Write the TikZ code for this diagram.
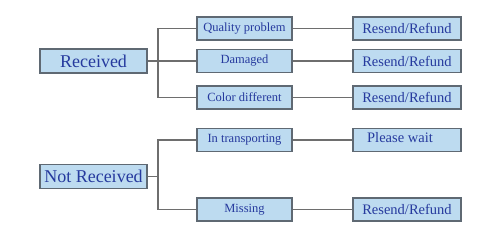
\documentclass[tikz,border=0pt]{standalone}
\usepackage{fontspec}
\setmainfont{Liberation Serif}
\usepackage{tikz}
\usetikzlibrary{positioning,calc}
\definecolor{boxfill}{RGB}{189,219,240}
\definecolor{boxline}{RGB}{95,105,115}
\definecolor{boxtext}{RGB}{38,58,158}
\definecolor{wire}{RGB}{110,110,110}

\begin{document}
\begin{tikzpicture}[
    x=1pt, y=-1pt,
    box/.style={rectangle, draw=boxline, line width=1.2pt, fill=boxfill, text=boxtext, inner sep=0pt},
    mainbox/.style={box, minimum width=107pt, minimum height=24pt, font=\fontsize{18}{20}\selectfont},
    casebox/.style={box, minimum width=95pt, minimum height=23pt, font=\fontsize{12.5}{14}\selectfont},
    actbox/.style={box, minimum width=108pt, minimum height=23pt, font=\fontsize{14.5}{16}\selectfont},
    wire/.style={draw=wire, line width=1.3pt}
]
    \useasboundingbox (0,0) rectangle (488,235);

    % Received
    \node[mainbox] (rec) at (93.5,61) {Received};
    \node[casebox] (qual) at (244.5,28.5) {Quality problem};
    \node[casebox] (dam) at (244.5,61) {Damaged};
    \node[casebox] (col) at (244.5,97.5) {Color different};
    \node[actbox] (qualact) at (407,28.5) {Resend/Refund};
    \node[actbox] (damact) at (407,61) {Resend/Refund};
    \node[actbox] (colact) at (407,97.5) {Resend/Refund};

    % Not Received
    \node[mainbox] (notrec) at (93.5,176.5) {Not Received};
    \node[casebox] (trans) at (244.5,140) {In transporting};
    \node[casebox] (miss) at (244.5,209.5) {Missing};
    \node[actbox] (transact) at (407,140) {};
    \node[text=boxtext, font=\fontsize{14.5}{16}\selectfont] (wait) at (400,137.5) {Please wait};
    \node[actbox] (missact) at (407,209.5) {Resend/Refund};

    % connectors
    \coordinate (recbus) at (158,61);
    \coordinate (notrecbus) at (158,176.5);
    \draw[wire] (rec.east) -- (recbus);
    \draw[wire] (recbus) |- (qual.west);
    \draw[wire] (recbus) -- (dam.west);
    \draw[wire] (recbus) |- (col.west);
    \draw[wire] (notrec.east) -- (notrecbus);
    \draw[wire] (notrecbus) |- (trans.west);
    \draw[wire] (notrecbus) |- (miss.west);

    \draw[wire] (qual) -- (qualact);
    \draw[wire] (dam) -- (damact);
    \draw[wire] (col) -- (colact);
    \draw[wire] (trans) -- (transact);
    \draw[wire] (miss) -- (missact);
\end{tikzpicture}
\end{document}
